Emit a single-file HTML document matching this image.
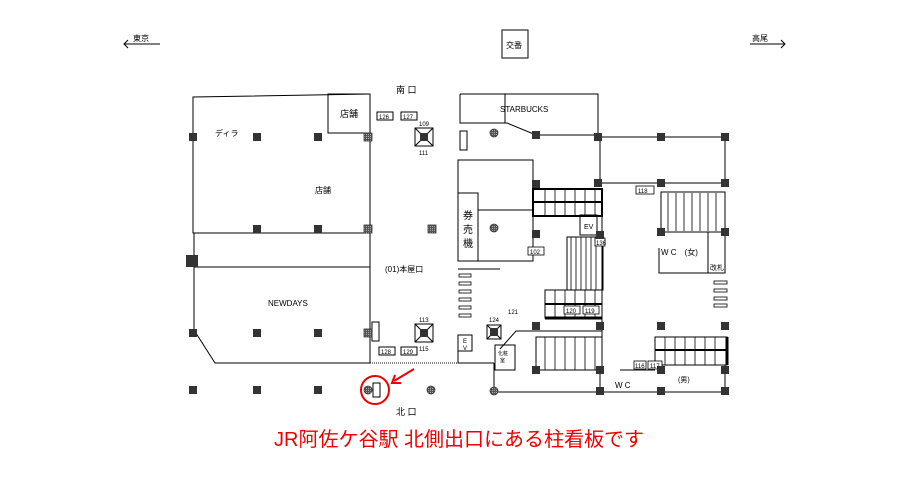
<!DOCTYPE html>
<html><head><meta charset="utf-8"><style>body{margin:0;background:#fff}svg{display:block}text{font-family:"Liberation Sans","Noto Sans CJK JP",sans-serif}</style></head><body>
<svg width="919" height="491" viewBox="0 0 919 491" xmlns="http://www.w3.org/2000/svg">
<defs>
<pattern id="h" width="2" height="2" patternUnits="userSpaceOnUse"><rect width="2" height="2" fill="#555"/><rect width="1" height="1" fill="#aaa"/></pattern>
</defs>
<g stroke="#000" stroke-width="1" fill="none">
<!-- top labels -->
<line x1="124" y1="44" x2="160" y2="44"/><polyline points="128,40 124,44 128,48"/>
<line x1="750" y1="44" x2="785" y2="44"/><polyline points="781,40 785,44 781,48"/>
<rect x="502" y="30" width="26" height="28"/>
<!-- left block -->
<polyline points="370,94 193,97 193,233 370,233"/>
<line x1="370" y1="94" x2="370" y2="363"/>
<rect x="328" y="94" width="42" height="39"/>
<line x1="194" y1="267" x2="370" y2="267"/>
<polyline points="194,233 194,330 215,363 370,363"/>
<line x1="370" y1="363" x2="458" y2="363" stroke-dasharray="1,1"/>
<!-- label boxes -->
<rect x="377" y="112" width="16" height="8"/><rect x="401" y="112" width="16" height="8"/>
<rect x="379" y="347" width="16" height="8"/><rect x="401" y="347" width="16" height="8"/>
<rect x="372" y="322" width="7" height="19"/>
<rect x="460" y="131" width="7" height="19"/>
<rect x="373" y="383" width="7" height="14"/>
<!-- elevators (square cones) -->
<rect x="415" y="128" width="18" height="18"/><path d="M415,128 L433,146 M433,128 L415,146"/>
<rect x="415" y="324" width="18" height="18"/><path d="M415,324 L433,342 M433,324 L415,342"/>
<rect x="487" y="325" width="14" height="14"/><path d="M487,325 L501,339 M501,325 L487,339"/>
<!-- starbucks -->
<polyline points="460,94 598,94 598,135 536,135 507,123 460,123 460,94"/>
<line x1="505" y1="94" x2="505" y2="123"/>
<!-- corridor -->
<line x1="598" y1="137" x2="725" y2="137"/><line x1="598" y1="183" x2="725" y2="183"/>
<line x1="600" y1="137" x2="600" y2="183"/><line x1="725" y1="137" x2="725" y2="183"/>
<!-- ticket -->
<rect x="458" y="160" width="75" height="101"/>
<rect x="458" y="193" width="20" height="68"/>
<line x1="478" y1="210" x2="533" y2="210"/>
<line x1="458" y1="269" x2="500" y2="269"/>
<rect x="580" y="215" width="17" height="20"/>
<!-- escalators -->
<rect x="533" y="189" width="69" height="27" stroke-width="2"/>
<line x1="533" y1="202" x2="602" y2="202" stroke-width="2"/>
<rect x="545" y="290" width="57" height="28"/>
<line x1="545" y1="304" x2="602" y2="304" stroke-width="2"/>
<line x1="545" y1="318" x2="602" y2="318" stroke-width="3"/>
<rect x="567" y="237" width="36" height="53"/>
<!-- right stairs & WC -->
<rect x="661" y="192" width="64" height="40"/>
<polyline points="659,248 659,273 725,273 725,232"/>
<line x1="708" y1="232" x2="708" y2="273"/>
<rect x="655" y="337" width="72" height="28"/>
<line x1="655" y1="350" x2="727" y2="350" stroke-width="2"/>
<line x1="727" y1="337" x2="727" y2="365" stroke-width="3"/>
<!-- lower stairs -->
<polyline points="500,349 516,331 602,331 602,370 536,370"/>
<rect x="536" y="337" width="66" height="33"/>
<rect x="495" y="345" width="20" height="25"/>
<rect x="458" y="335" width="14" height="16"/>
<polyline points="458,351 458,363 494,363"/>
<line x1="494" y1="363" x2="494" y2="392"/>
<line x1="494" y1="392" x2="725" y2="392"/>
<line x1="725" y1="365" x2="725" y2="392"/>
<line x1="600" y1="370" x2="600" y2="392"/>
<line x1="620" y1="370" x2="655" y2="370"/>
<line x1="602" y1="216" x2="602" y2="370"/>
</g>
<!-- stair lines -->
<g stroke="#000" stroke-width="0.8">
<path d="M545,190v25M555,190v25M565,190v25M575,190v25M585,190v25M595,190v25"/>
<path d="M571,237v53M576,237v53M581,237v53M586,237v53M591,237v53M596,237v53"/>
<path d="M555,290v28M565,290v28M575,290v28M585,290v28M595,290v28"/>
<path d="M668,193v38M676,193v38M684,193v38M692,193v38M700,193v38M708,193v38M716,193v38"/>
<path d="M545,337v33M555,337v33M565,337v33M575,337v33M585,337v33M595,337v33"/>
<path d="M665,337v28M675,337v28M685,337v28M695,337v28M705,337v28M715,337v28"/>
</g>
<g fill="#fff" stroke="#000" stroke-width="0.8">
<rect x="459" y="274" width="12" height="3"/><rect x="459" y="282" width="12" height="3"/><rect x="459" y="290" width="12" height="3"/><rect x="459" y="298" width="12" height="3"/><rect x="459" y="306" width="12" height="3"/><rect x="459" y="314" width="12" height="3"/>
<rect x="714" y="281" width="13" height="3"/><rect x="714" y="289" width="13" height="3"/><rect x="714" y="297" width="13" height="3"/><rect x="714" y="304" width="13" height="3"/>
<rect x="634" y="361" width="12" height="8"/><rect x="648" y="361" width="14" height="8"/>
<rect x="564" y="306" width="16" height="8"/><rect x="583" y="306" width="16" height="8"/>
<rect x="528" y="247" width="16" height="8"/><rect x="636" y="186" width="18" height="8"/>
<rect x="595" y="238" width="10" height="8"/>
</g>
<!-- columns -->
<g fill="#333">
<rect x="189" y="133" width="8" height="8"/><rect x="253" y="133" width="8" height="8"/><rect x="314" y="133" width="8" height="8"/>
<rect x="253" y="225" width="8" height="8"/><rect x="314" y="225" width="8" height="8"/>
<rect x="186" y="255" width="12" height="12"/>
<rect x="189" y="329" width="8" height="8"/><rect x="253" y="329" width="8" height="8"/><rect x="314" y="329" width="8" height="8"/>
<rect x="189" y="386" width="8" height="8"/><rect x="253" y="386" width="8" height="8"/><rect x="314" y="386" width="8" height="8"/>
<rect x="532" y="131" width="8" height="8"/><rect x="594" y="133" width="8" height="8"/><rect x="657" y="133" width="8" height="8"/><rect x="721" y="133" width="8" height="8"/>
<rect x="594" y="179" width="8" height="8"/><rect x="657" y="179" width="8" height="8"/><rect x="721" y="179" width="8" height="8"/>
<rect x="532" y="180" width="8" height="8"/><rect x="532" y="230" width="8" height="8"/>
<rect x="596" y="231" width="8" height="8"/><rect x="657" y="228" width="8" height="8"/><rect x="721" y="228" width="8" height="8"/>
<rect x="532" y="322" width="8" height="8"/><rect x="596" y="322" width="8" height="8"/><rect x="657" y="322" width="8" height="8"/><rect x="721" y="322" width="8" height="8"/>
<rect x="532" y="366" width="8" height="8"/><rect x="596" y="366" width="8" height="8"/><rect x="657" y="366" width="8" height="8"/><rect x="721" y="366" width="8" height="8"/>
<rect x="596" y="387" width="8" height="8"/><rect x="657" y="387" width="8" height="8"/><rect x="721" y="387" width="8" height="8"/>
<rect x="420" y="133" width="8" height="8"/><rect x="420" y="329" width="8" height="8"/><rect x="490" y="328" width="8" height="8"/>
</g>
<g fill="url(#h)" stroke="#333" stroke-width="0.8">
<rect x="364" y="133" width="8" height="8"/><rect x="364" y="225" width="8" height="8"/><rect x="364" y="329" width="8" height="8"/>
<rect x="428" y="225" width="8" height="8"/>
<circle cx="368" cy="390" r="4"/><circle cx="431" cy="390" r="4"/><circle cx="494" cy="133" r="4"/><circle cx="494" cy="228" r="4"/><circle cx="494" cy="391" r="4"/>
</g>
<!-- red marker -->
<circle cx="375" cy="390" r="14" fill="none" stroke="#e00" stroke-width="2"/>
<line x1="414" y1="369" x2="394" y2="381" stroke="#e00" stroke-width="2"/>
<polyline points="395,375 392,383 401,383" fill="none" stroke="#e00" stroke-width="2"/>
<!-- text -->
<g font-size="8" fill="#000">
<text x="133" y="41">東京</text><text x="752" y="41">高尾</text>
<text x="506" y="48">交番</text>
<text x="396" y="93" font-size="9">南 口</text>
<text x="396" y="415" font-size="9">北 口</text>
<text x="340" y="117" font-size="9">店舗</text>
<text x="215" y="136">ディラ</text>
<text x="315" y="193">店舗</text>
<text x="385" y="272">(01)本屋口</text>
<text x="268" y="306">NEWDAYS</text>
<text x="500" y="112">STARBUCKS</text>
<text x="584" y="229" font-size="7">EV</text>
<text x="661" y="255">W C　(女)</text><text x="710" y="270" font-size="7">改札</text>
<text x="615" y="388">W C</text><text x="678" y="382" font-size="7">(男)</text>
<text x="463" y="219" font-size="10">券</text><text x="463" y="233" font-size="10">売</text><text x="463" y="247" font-size="10">機</text>
<text x="498" y="355" font-size="5">化粧</text><text x="500" y="362" font-size="5">室</text>
<text x="463" y="343" font-size="6">E</text><text x="463" y="350" font-size="6">V</text>
</g>
<g font-size="6" fill="#000">
<text x="379" y="119">126</text><text x="403" y="119">127</text>
<text x="381" y="354">128</text><text x="403" y="354">129</text>
<text x="419" y="126">109</text><text x="419" y="155">111</text>
<text x="419" y="322">113</text><text x="419" y="351">115</text>
<text x="489" y="322">124</text><text x="508" y="314">121</text>
<text x="566" y="313">120</text><text x="585" y="313">119</text>
<text x="530" y="254">102</text><text x="638" y="193">118</text>
<text x="635" y="368">116</text><text x="650" y="368">117</text>
<text x="596" y="245">136</text>
</g>
<text x="459" y="446" text-anchor="middle" font-size="20" fill="#e00">JR阿佐ケ谷駅 北側出口にある柱看板です</text>
</svg>
</body></html>
